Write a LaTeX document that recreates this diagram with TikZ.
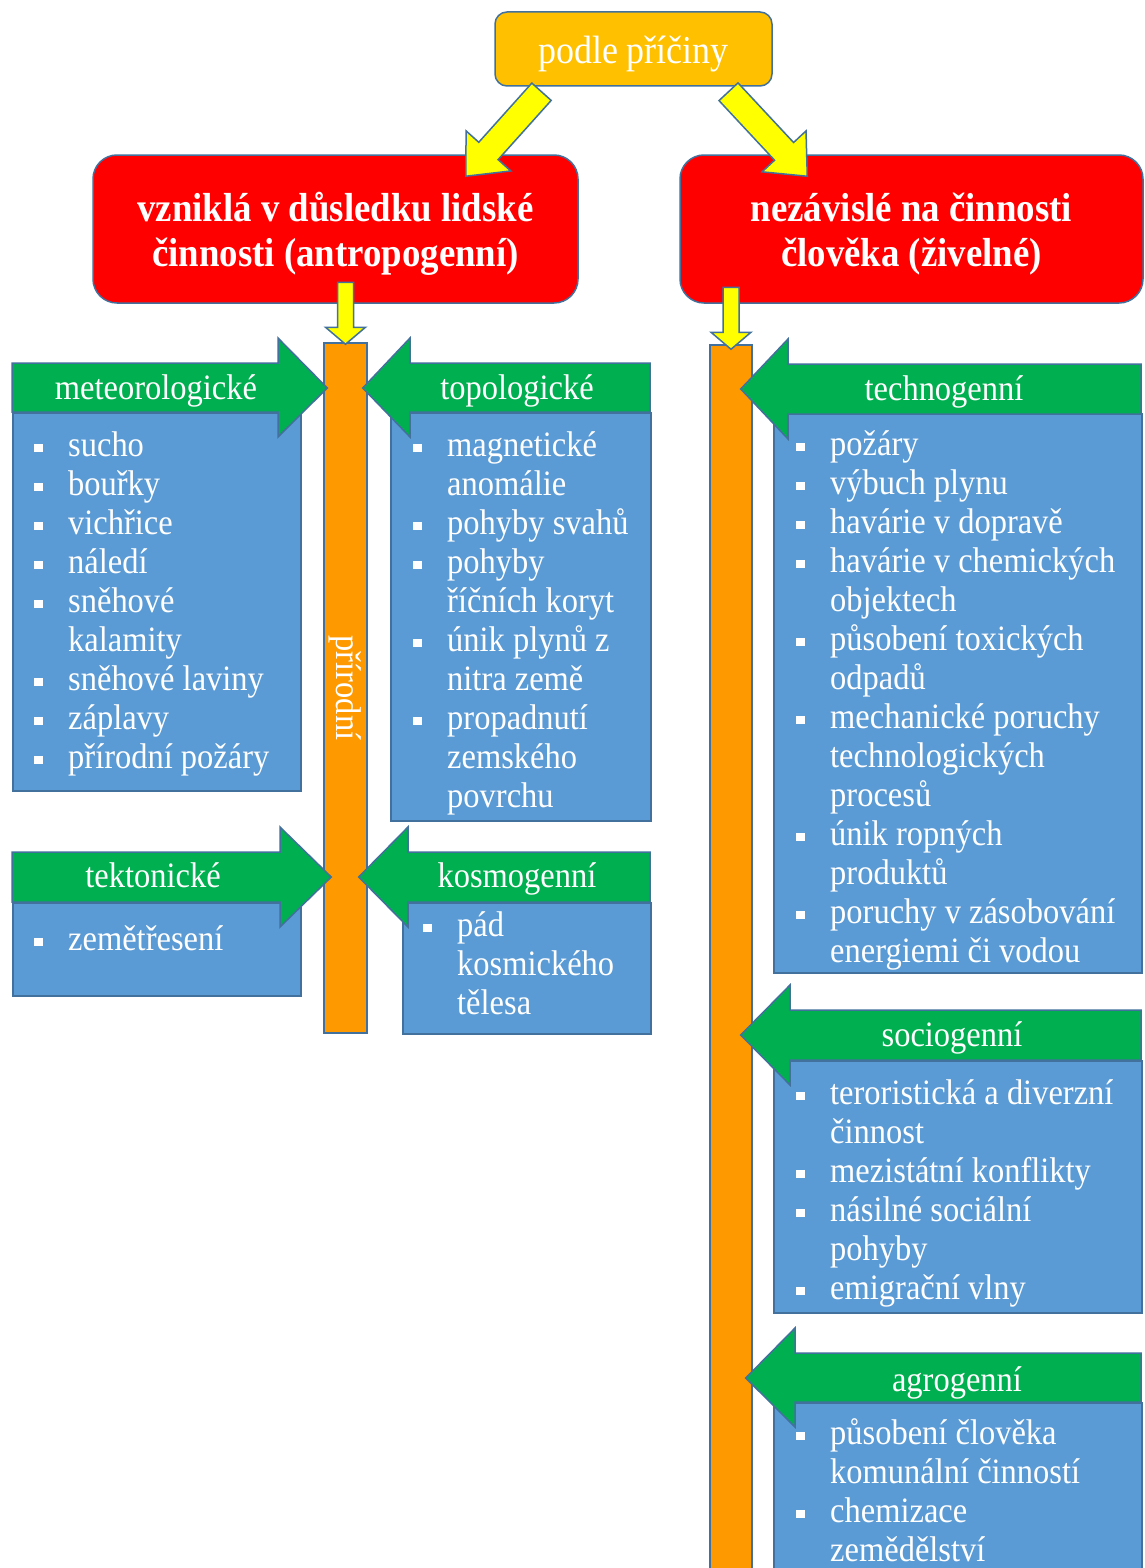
\documentclass[tikz,border=0pt]{standalone}
\usepackage{fontspec}
\setmainfont{Liberation Serif}[FakeStretch=0.91]
\usetikzlibrary{calc}
\definecolor{rim}{HTML}{41719C}
\definecolor{gold}{HTML}{FFC000}
\definecolor{ylw}{HTML}{FFFF00}
\definecolor{orng}{HTML}{FF9900}
\definecolor{grn}{HTML}{00B050}
\definecolor{blu}{HTML}{5B9BD5}
\newcommand{\blt}{\makebox[34pt][l]{\rule[4pt]{8.5pt}{8.5pt}}}
\newcommand{\ind}{\hspace*{34pt}}
% block arrow: from, to, half shaft, half head, head length
\newcommand{\barrow}[5]{%
  \coordinate (hb) at ($(#2)!#5!(#1)$);
  \filldraw[yarrow] ($(#1)!#3!90:(#2)$) -- ($(hb)!#3!90:(#2)$) -- ($(hb)!#4!90:(#2)$) -- (#2)
    -- ($(hb)!#4!-90:(#2)$) -- ($(hb)!#3!-90:(#2)$) -- ($(#1)!#3!-90:(#2)$) -- cycle;}
% green arrow: band end x, head base x, top y, bottom y, tip
\newcommand{\garrow}[5]{%
  \filldraw[garrow] (#1,#3) -- (#2,#3) -- (#2,#3-25) -- (#5) -- (#2,#4+25) -- (#2,#4) -- (#1,#4) -- cycle;}
\tikzset{
  box/.style={draw=rim, line width=1.5pt, inner sep=0pt},
  ttl/.style={box, fill=gold, rounded corners=12pt, minimum width=277pt, minimum height=74pt,
    text=white, font=\fontsize{39.5}{45}\selectfont, text height=37pt, text depth=8pt},
  cause/.style={box, fill=red, rounded corners=24pt, minimum height=148pt},
  causetxt/.style={inner sep=0pt, text=white, font=\bfseries\fontsize{40.5}{45}\selectfont, align=center},
  bar/.style={box, fill=orng},
  yarrow/.style={draw=rim, line width=1.5pt, fill=ylw, line join=miter},
  garrow/.style={draw=rim, line width=1.5pt, fill=grn, line join=miter},
  blubox/.style={box, fill=blu, anchor=north west},
  hdr/.style={inner sep=0pt, text=white, font=\fontsize{35.7}{39}\selectfont, text height=24pt, text depth=8pt},
  lst/.style={inner sep=0pt, anchor=base west, text=white, font=\fontsize{35.7}{39}\selectfont},
}
\begin{document}
\begin{tikzpicture}[x=1pt,y=-1pt]
\fill[white] (0,0) rectangle (1145,1568);
\useasboundingbox (0,0) rectangle (1145,1568);
% top level
\node[ttl] (title) at (633.5,49) {podle příčiny};
\node[cause, minimum width=485pt] (lft) at (335.5,229) {};
\node[cause, minimum width=463pt] (rgt) at (911.5,229) {};
\node[causetxt] (lftTxt) at ($(lft.center)+(0,5)$) {vzniklá v důsledku lidské\\činnosti (antropogenní)};
\node[causetxt] (rgtTxt) at ($(rgt.center)+(0,5)$) {nezávislé na činnosti\\člověka (živelné)};
\coordinate (aL0) at ($(title.south)+(-92,5)$);
\coordinate (aL1) at ($(lft.north east)+(-113,22)$);
\coordinate (aR0) at ($(title.south)+(95,5)$);
\coordinate (aR1) at ($(rgt.north west)+(128,22)$);
\barrow{aL0}{aL1}{13pt}{30pt}{34pt}
\barrow{aR0}{aR1}{13pt}{30pt}{34pt}
% bars
\node[bar, minimum width=43pt, minimum height=690pt] (barL) at (345.5,688) {};
\node[bar, minimum width=42pt, minimum height=1240pt] (barR) at (731,965) {};
\node[rotate=-90, text=white, font=\fontsize{35.7}{39}\selectfont] (natLbl) at (barL.center) {přírodní};
\coordinate (dL0) at ($(barL.north)+(0,-60)$);
\coordinate (dL1) at ($(barL.north)+(0,2)$);
\coordinate (dR0) at ($(barR.north)+(0,-57)$);
\coordinate (dR1) at ($(barR.north)+(0,5)$);
\barrow{dL0}{dL1}{8pt}{20pt}{17pt}
\barrow{dR0}{dR1}{8pt}{20pt}{17pt}
% blue boxes
\node[blubox, minimum width=288pt, minimum height=378pt] (bMet) at (12,412) {};
\node[blubox, minimum width=260pt, minimum height=408pt] (bTop) at (390,412) {};
\node[blubox, minimum width=288pt, minimum height=93pt] (bTek) at (12,902) {};
\node[blubox, minimum width=248pt, minimum height=131pt] (bKos) at (402,902) {};
\node[blubox, minimum width=368pt, minimum height=559pt] (bTech) at (773,413) {};
\node[blubox, minimum width=368pt, minimum height=252pt] (bSoc) at (773,1060) {};
\node[blubox, minimum width=368pt, minimum height=190pt] (bAgr) at (773,1402) {};
% green arrows to the bars
\coordinate (tMet) at ($(barL.west |- 0,388)+(4,0)$);
\coordinate (tTop) at ($(barL.east |- 0,388)+(-5,0)$);
\coordinate (tTek) at ($(barL.west |- 0,877)+(8,0)$);
\coordinate (tKos) at ($(barL.east |- 0,877)+(-9,0)$);
\coordinate (tTech) at ($(barR.east |- 0,389)+(-12,0)$);
\coordinate (tSoc) at ($(barR.east |- 0,1035)+(-12,0)$);
\coordinate (tAgr) at ($(barR.east |- 0,1378)+(-7,0)$);
\garrow{12}{278}{363}{412}{tMet}
\garrow{650}{410}{363}{412}{tTop}
\garrow{12}{280}{852}{902}{tTek}
\garrow{650}{408}{852}{902}{tKos}
\garrow{1141}{788}{364}{414}{tTech}
\garrow{1141}{790}{1010}{1060}{tSoc}
\garrow{1141}{795}{1353}{1402}{tAgr}
\node[hdr] (hMet) at (156,391) {meteorologické};
\node[hdr] (hTop) at (517,391) {topologické};
\node[hdr] (hTek) at (153,879) {tektonické};
\node[hdr] (hKos) at (517,879) {kosmogenní};
\node[hdr] (hTech) at (944,392) {technogenní};
\node[hdr] (hSoc) at (952,1038) {sociogenní};
\node[hdr] (hAgr) at (957,1383) {agrogenní};
% lists
\node[lst] (lMet) at (34,456) {\begin{tabular}[t]{@{}l@{}}
  \blt sucho\\ \blt bouřky\\ \blt vichřice\\ \blt náledí\\ \blt sněhové\\ \ind kalamity\\
  \blt sněhové laviny\\ \blt záplavy\\ \blt přírodní požáry\end{tabular}};
\node[lst] (lTop) at (413,456) {\begin{tabular}[t]{@{}l@{}}
  \blt magnetické\\ \ind anomálie\\ \blt pohyby svahů\\ \blt pohyby\\ \ind říčních koryt\\
  \blt únik plynů z\\ \ind nitra země\\ \blt propadnutí\\ \ind zemského\\ \ind povrchu\end{tabular}};
\node[lst] (lTek) at (34,950) {\begin{tabular}[t]{@{}l@{}}\blt zemětřesení\end{tabular}};
\node[lst] (lKos) at (423,936) {\begin{tabular}[t]{@{}l@{}}
  \blt pád\\ \ind kosmického\\ \ind tělesa\end{tabular}};
\node[lst] (lTech) at (796,455) {\begin{tabular}[t]{@{}l@{}}
  \blt požáry\\ \blt výbuch plynu\\ \blt havárie v dopravě\\ \blt havárie v chemických\\ \ind objektech\\
  \blt působení toxických\\ \ind odpadů\\ \blt mechanické poruchy\\ \ind technologických\\ \ind procesů\\
  \blt únik ropných\\ \ind produktů\\ \blt poruchy v zásobování\\ \ind energiemi či vodou\end{tabular}};
\node[lst] (lSoc) at (796,1104) {\begin{tabular}[t]{@{}l@{}}
  \blt teroristická a diverzní\\ \ind činnost\\ \blt mezistátní konflikty\\ \blt násilné sociální\\
  \ind pohyby\\ \blt emigrační vlny\end{tabular}};
\node[lst] (lAgr) at (796,1444) {\begin{tabular}[t]{@{}l@{}}
  \blt působení člověka\\ \ind komunální činností\\ \blt chemizace\\ \ind zemědělství\end{tabular}};
\end{tikzpicture}
\end{document}
